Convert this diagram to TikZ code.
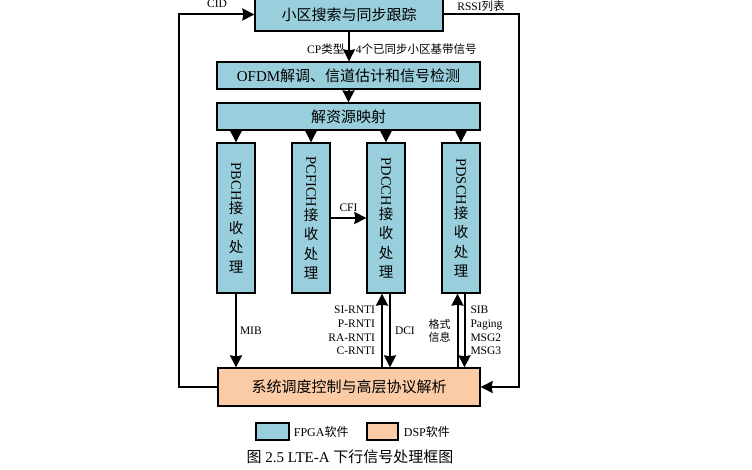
\documentclass[tikz,border=0pt]{standalone}
\usepackage{fontspec}
\setmainfont{Liberation Serif}
\newfontfamily\cjk{Noto Sans CJK SC}
\newcommand{\zh}[1]{{\cjk #1}}
\usetikzlibrary{arrows.meta,positioning}
\definecolor{fpgablue}{RGB}{153,207,220}
\definecolor{dsporange}{RGB}{251,203,165}
\tikzset{
  fpga/.style={draw, line width=1.3pt, fill=fpgablue, inner sep=0pt,
    font=\fontsize{15}{18}\selectfont},
  dsp/.style={fpga, fill=dsporange},
  chan/.style={fpga, minimum width=38, minimum height=150, align=center,
    font=\fontsize{14.5}{19.5}\selectfont},
  link/.style={line width=2pt, -{Stealth[length=12pt,width=12pt,inset=1pt]}},
  lbl/.style={inner sep=0pt, font=\fontsize{11.5}{13.7}\selectfont},
}
\begin{document}
\begin{tikzpicture}[x=1pt, y=-1pt]
\useasboundingbox (0,0) rectangle (752,470);

% processing chain
\node[fpga, minimum width=188, minimum height=33] (search) at (349,14.5) {\zh{小区搜索与同步跟踪}};
\node[fpga, minimum width=263, minimum height=27] (ofdm) at (348.5,75.5) {OFDM\zh{解调、信道估计和信号检测}};
\node[fpga, minimum width=263, minimum height=27] (demap) at (348.5,116.5) {\zh{解资源映射}};

\node[chan] (pbch) at (236,218) {\rotatebox{-90}{PBCH}\\\zh{接}\\\zh{收}\\\zh{处}\\\zh{理}};
\node[chan] (pcfich) at (311,218) {\rotatebox{-90}{PCFICH}\\\zh{接}\\\zh{收}\\\zh{处}\\\zh{理}};
\node[chan] (pdcch) at (386,218) {\rotatebox{-90}{PDCCH}\\\zh{接}\\\zh{收}\\\zh{处}\\\zh{理}};
\node[chan] (pdsch) at (461,218) {\rotatebox{-90}{PDSCH}\\\zh{接}\\\zh{收}\\\zh{处}\\\zh{理}};

\node[dsp, minimum width=262, minimum height=38] (sched) at (349,387) {\zh{系统调度控制与高层协议解析}};

% arrows down the chain
\draw[link] (search.south) -- (search.south |- ofdm.north);
\node[lbl, anchor=west] (cplbl) at (307,49) {CP\zh{类型、}4\zh{个已同步小区基带信号}};
\draw[link] (ofdm) -- (demap);
\foreach \c in {pbch,pcfich,pdcch,pdsch}
{
    \draw[link] (\c.north |- demap.south) -- (\c.north);
}
\draw[link] (pcfich) -- node[lbl, above=5pt] (cfilbl) {CFI} (pdcch);

% channels to and from the DSP
\draw[link] (pbch) -- node[lbl, right=3pt] (miblbl) {MIB} (pbch |- sched.north);

\coordinate (dcchup) at ([xshift=-4pt]pdcch.south);
\coordinate (dcchdn) at ([xshift=4pt]pdcch.south);
\draw[link] (dcchup |- sched.north) -- node[lbl, left=6pt, align=right] (rntilbl) {SI-RNTI\\P-RNTI\\RA-RNTI\\C-RNTI} (dcchup);
\draw[link] (dcchdn) -- node[lbl, right=4pt] (dcilbl) {DCI} (dcchdn |- sched.north);

\coordinate (dschup) at ([xshift=-3.5pt]pdsch.south);
\coordinate (dschdn) at ([xshift=3.5pt]pdsch.south);
\draw[link] (dschup |- sched.north) -- node[lbl, left=6pt, align=center, font=\fontsize{11}{13}\selectfont] (fmtlbl) {\zh{格式}\\\zh{信息}} (dschup);
\draw[link] (dschdn) -- node[lbl, right=5pt, align=left] (siblbl) {SIB\\Paging\\MSG2\\MSG3} (dschdn |- sched.north);

% feedback loops
\draw[link] (sched.west) -- ++(-38,0) |- (search.west);
\node[lbl] (cidlbl) at (217,4) {CID};
\draw[link] (search.east) -- ++(75,0) |- (sched.east);
\node[lbl] (rssilbl) at (481,6) {RSSI\zh{列表}};

% legend
\node[fpga, minimum width=33, minimum height=17] (fpgakey) at (272.5,431.5) {};
\node[lbl, right=4pt of fpgakey, font=\fontsize{12}{14}\selectfont] (fpgatxt) {FPGA\zh{软件}};
\node[dsp, minimum width=31, minimum height=17] (dspkey) at (382.5,431.5) {};
\node[lbl, right=5pt of dspkey, font=\fontsize{12}{14}\selectfont] (dsptxt) {DSP\zh{软件}};

\node[font=\fontsize{15}{18}\selectfont] (caption) at (350,457) {\zh{图} 2.5 LTE-A \zh{下行信号处理框图}};

\end{tikzpicture}
\end{document}
